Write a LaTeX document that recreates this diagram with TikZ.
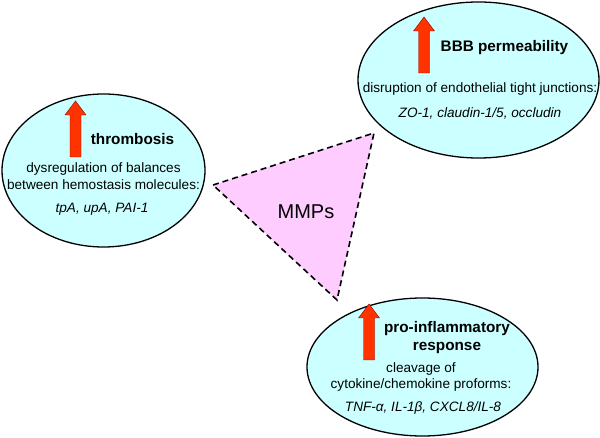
\documentclass[tikz,border=0pt]{standalone}
\usepackage{fontspec}
\setmainfont{Liberation Sans}
\usetikzlibrary{shapes.geometric}
\definecolor{blobcyan}{RGB}{204,255,255}
\definecolor{mmppink}{RGB}{255,204,255}
\definecolor{arrred}{RGB}{255,51,0}
\begin{document}
\begin{tikzpicture}[x=1pt,y=-1pt,
  blob/.style={ellipse, draw, line width=1.3pt, fill=blobcyan, inner sep=0},
  ttl/.style={font=\fontsize{15.3}{18}\selectfont\bfseries, align=center, inner sep=0},
  txt/.style={font=\fontsize{13.6}{16.5}\selectfont, align=center, inner sep=0},
  gen/.style={font=\fontsize{13.6}{16.5}\selectfont\itshape, inner sep=0},
  upar/.pic={\draw[fill=arrred, draw=red!55!black, line width=0.4pt]
    (-5.5,0) -- (5.5,0) -- (5.5,-42) -- (10.5,-42) -- (0,-56) -- (-10.5,-42) -- (-5.5,-42) -- cycle;}]
\useasboundingbox (0,0) rectangle (600,438);
% effects
\node[blob, minimum width=203, minimum height=153] (thromb) at (103.5,170.5){};
\node[blob, minimum width=241, minimum height=156] (bbb) at (478.5,80){};
\node[blob, minimum width=231, minimum height=138] (inflam) at (422.5,367){};
% up arrows
\pic (thrombarr) at (75.5,157) {upar};
\pic (bbbarr) at (424,73) {upar};
\pic (inflamarr) at (369,360) {upar};
% thrombosis
\node[ttl] (thrombttl) at (132.5,139){thrombosis};
\node[txt] (thrombtxt) at (103.5,176){dysregulation of balances\\between hemostasis molecules:};
\node[gen] (thrombgen) at (102,209){tpA, upA, PAI-1};
% BBB
\node[ttl] (bbbttl) at (504.5,48){BBB permeability};
\node[txt] (bbbtxt) at (480,89){disruption of endothelial tight junctions:};
\node[gen] (bbbgen) at (480,113){ZO-1, claudin-1/5, occludin};
% inflammation
\node[ttl] (inflamttl) at (447,338){pro-inflammatory\\response};
\node[txt] (inflamtxt) at (421,377){cleavage of\\cytokine/chemokine proforms:};
\node[gen] (inflamgen) at (423,408){TNF-α, IL-1β, CXCL8/IL-8};
% MMPs
\coordinate (mmpl) at (213,185);
\coordinate (mmpr) at (374,133);
\coordinate (mmpb) at (337,300);
\draw[fill=mmppink, line width=1.6pt, dash pattern=on 6pt off 4pt] (mmpl) -- (mmpr) -- (mmpb) -- cycle;
\node[font=\fontsize{20}{24}\selectfont, inner sep=0] (mmps) at (306,212){MMPs};
\end{tikzpicture}
\end{document}
